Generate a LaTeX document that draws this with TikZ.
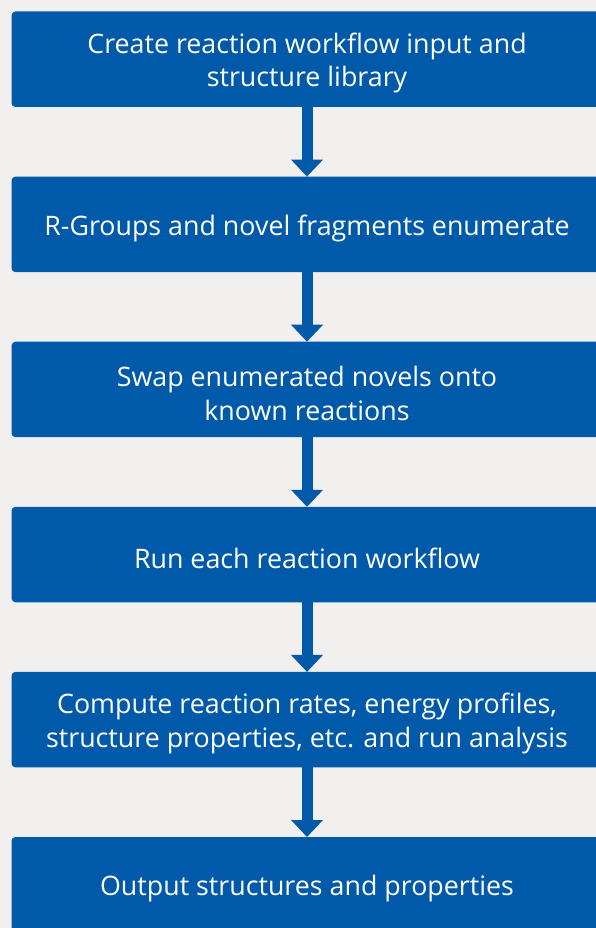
\documentclass[tikz,border=0pt]{standalone}
\usepackage{fontspec}
\setmainfont{Open Sans}
\usetikzlibrary{arrows.meta}
\definecolor{bgc}{RGB}{242,240,238}
\definecolor{boxblue}{RGB}{0,89,169}
\tikzset{
  boxtext/.style={text=white, align=center, inner sep=0pt,
    font=\fontsize{26.8}{33.5}\selectfont},
  flowarrow/.style={draw=boxblue, line width=11pt,
    -{Triangle[width=31pt,length=17pt]}, shorten >=0pt}
}
\begin{document}
\begin{tikzpicture}[x=1pt,y=-1pt]
\fill[bgc] (0,0) rectangle (596,928);
\useasboundingbox (0,0) rectangle (596,928);
\begin{scope}
\clip (0,0) rectangle (596,928);
\foreach \i/\t in {0/{Create reaction workflow input and\\structure library},
                   1/{R-Groups and novel fragments enumerate},
                   2/{Swap enumerated novels onto\\known reactions},
                   3/{Run each reaction workflow},
                   4/{Compute reaction rates, energy profiles,\\structure properties, etc. and run analysis},
                   5/{Output structures and properties}}{
  \pgfmathsetmacro{\top}{11.5+165.1*\i}
  \fill[boxblue, rounded corners=4pt] (11.5,\top) rectangle (603,\top+95.5);
  \node[boxtext] (b\i) at (307,\top+51.5) {\t};
  \coordinate (bt\i) at (307,\top);
  \coordinate (bb\i) at (307,\top+95.5);
}
\end{scope}
\foreach \i [evaluate=\i as \j using int(\i+1)] in {0,...,4}{
  \draw[flowarrow] (bb\i) -- (bt\j);
}
\end{tikzpicture}
\end{document}
